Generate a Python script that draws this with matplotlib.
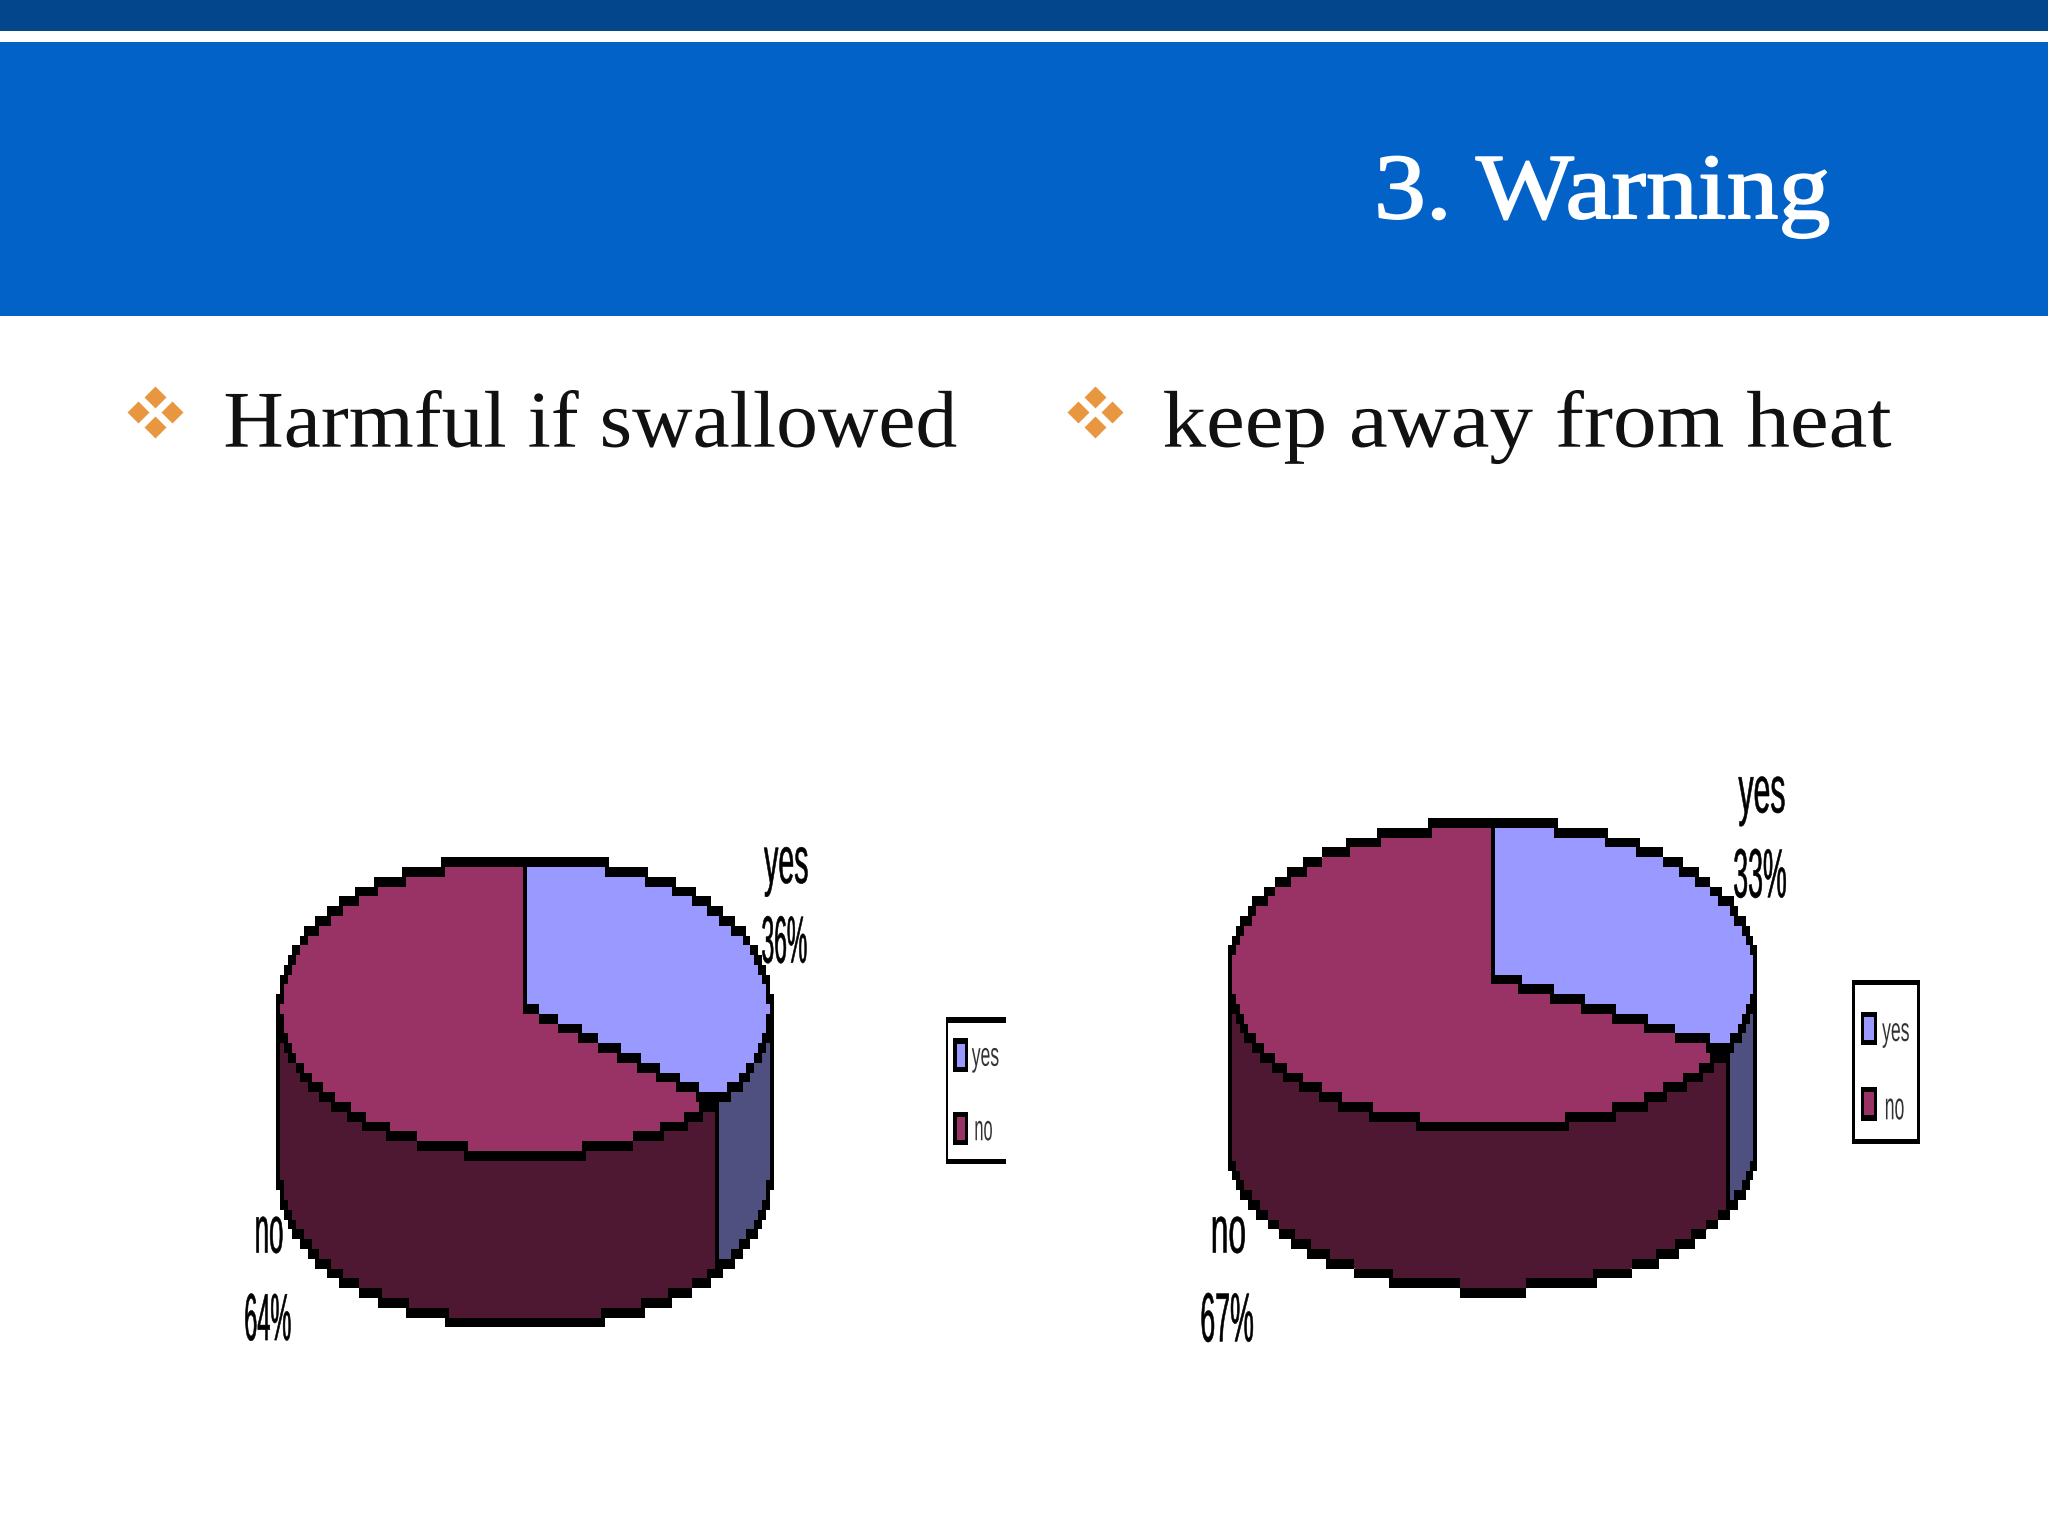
import numpy as np
import matplotlib
matplotlib.use("Agg")
import matplotlib.pyplot as plt
import matplotlib.patheffects as pe
from matplotlib.collections import PolyCollection
from matplotlib.transforms import Affine2D

# ---- data ----
categories = ["yes", "no"]
left_values = [36, 64]
right_values = [33, 67]
left_labels = ["36%", "64%"]
right_labels = ["33%", "67%"]
title_text = "3. Warning"
bullet_texts = ["Harmful if swallowed", "keep away from heat"]

TOP_COL = {"yes": "#9999FF", "no": "#993366"}
SIDE_COL = {"yes": "#4F4F80", "no": "#4E1832"}
CELL_W, CELL_H = 3.0, 7.5
EXPO = 2.08

fig = plt.figure(figsize=(20.48, 15.36), dpi=100, facecolor="white")
ax = fig.add_axes([0, 0, 1, 1])
ax.set_xlim(0, 1568)
ax.set_ylim(1176, 0)
ax.axis("off")
PX = 2048 / 1568


class Squeeze(pe.AbstractPathEffect):
    def __init__(self, sx, stroke=0.0):
        super().__init__()
        self.sx, self.stroke = sx, stroke

    def draw_path(self, renderer, gc, tpath, affine, rgbFace=None):
        gc0 = renderer.new_gc()
        gc0.copy_properties(gc)
        if self.stroke > 0:
            gc0.set_foreground(rgbFace)
            gc0.set_linewidth(self.stroke)
        renderer.draw_path(gc0, tpath, Affine2D().scale(self.sx, 1.0) + affine, rgbFace)
        gc0.restore()


def fit_text(s, x0, x1, base, size, color="black", family="Liberation Serif", stroke=0.0, z=10):
    t = ax.text(x0, base, s, fontsize=size, color=color, family=family,
                ha="left", va="baseline", zorder=z)
    w = t.get_window_extent(fig.canvas.get_renderer()).width
    t.set_path_effects([Squeeze((x1 - x0) * PX / w, stroke)])
    return t


def cells(points):
    q = np.unique(np.round(np.asarray(points) / [CELL_W, CELL_H]).astype(int), axis=0)
    out = []
    for i, j in q:
        x, y = i * CELL_W, j * CELL_H
        out.append([(x - CELL_W / 2, y - CELL_H / 2), (x + CELL_W / 2, y - CELL_H / 2),
                    (x + CELL_W / 2, y + CELL_H / 2), (x - CELL_W / 2, y + CELL_H / 2)])
    return out


def pie3d(values, cx, cy, rx, ry, depth):
    frac = values[0] / sum(values)
    split = 360 * frac

    def arc(a, b, dy=0.0, n=400):
        t = np.radians(np.linspace(a, b, n))
        s, c = np.sin(t), np.cos(t)
        r = (np.abs(s) ** EXPO + np.abs(c) ** EXPO) ** (-1 / EXPO)
        return np.column_stack([cx + rx * r * s, cy - ry * r * c + dy])

    # side walls
    for name, a, b in [("yes", 90, split), ("no", split, 270)]:
        p = np.vstack([arc(a, b), arc(b, a, depth)])
        ax.fill(p[:, 0], p[:, 1], color=SIDE_COL[name], lw=0, zorder=2)
    # top slices
    for name, a, b in [("yes", 0, split), ("no", split, 360)]:
        p = np.vstack([[(cx, cy)], arc(a, b)])
        ax.fill(p[:, 0], p[:, 1], color=TOP_COL[name], lw=0, zorder=3)
    # pixel-stepped outline
    pts = [arc(0, 360, n=1500), arc(90, 270, depth, n=800)]
    t = np.linspace(0, 1, 200)[:, None]
    s = arc(split, split, n=1)[0]
    pts.append(np.array([cx, cy]) * (1 - t) + s * t)
    pts.append(np.array([cx, cy]) + np.array([0, -ry]) * t)
    for tip_a in (90, split, 270):
        tip = arc(tip_a, tip_a, n=1)[0]
        pts.append(tip + np.array([0, depth]) * t)
    ax.add_collection(PolyCollection(cells(np.vstack(pts)), facecolors="black",
                                     edgecolors="none", zorder=4))


# ---- header ----
ax.fill_between([0, 1568], 0, 24, color="#03468C", lw=0)
ax.fill_between([0, 1568], 32, 242, color="#0362C8", lw=0)
fit_text(title_text, 1052, 1401, 167, 67, color="white", stroke=1.3)

# ---- bullets ----
for bx, txt, x0, x1 in [(119, bullet_texts[0], 171, 733), (838, bullet_texts[1], 890, 1448)]:
    ax.scatter([bx, bx, bx - 13, bx + 13], [304, 327, 315.5, 315.5], marker="D", s=125,
               color="#E8963F", linewidths=0, zorder=5)
    fit_text(txt, x0, x1, 342, 58, color="#111111")

# ---- pies ----
pie3d(left_values, 402, 771, 188, 113, 130)
pie3d(right_values, 1143, 747, 202, 116, 124)

SANS = "Liberation Sans"
LBL = 0.4
fit_text(categories[0], 585, 619, 676, 48, family=SANS, stroke=LBL)
fit_text(left_labels[0], 583, 618, 737, 48, family=SANS, stroke=LBL)
fit_text(categories[1], 195, 217, 959, 48, family=SANS, stroke=LBL)
fit_text(left_labels[1], 187, 223, 1026, 48, family=SANS, stroke=LBL)
fit_text(categories[0], 1331, 1367, 622, 48, family=SANS, stroke=LBL)
fit_text(right_labels[0], 1327, 1368, 687, 50, family=SANS, stroke=LBL)
fit_text(categories[1], 927, 954, 959, 48, family=SANS, stroke=LBL)
fit_text(right_labels[1], 919, 960, 1027, 50, family=SANS, stroke=LBL)

# ---- legends ----
def hbar(x0, x1, y0, y1):
    ax.fill_between([x0, x1], y0, y1, color="black", lw=0, zorder=5)

def swatch(x0, x1, y0, y1, c):
    ax.fill_between([x0, x1], y0, y1, color="black", lw=0, zorder=5)
    ax.fill_between([x0 + 2.5, x1 - 2.5], y0 + 4, y1 - 4, color=c, lw=0, zorder=6)

# left legend (clipped on the right)
hbar(724, 770, 779, 783)
hbar(724, 770, 887, 891)
hbar(724, 726, 779, 891)
swatch(730, 741, 795, 821, TOP_COL["yes"])
swatch(730, 741, 851, 877, TOP_COL["no"])
fit_text(categories[0], 744, 765, 816, 24, family=SANS, color="#333333")
fit_text(categories[1], 746, 760, 873, 26, family=SANS, color="#333333")
# right legend
hbar(1418, 1470, 750, 754)
hbar(1418, 1470, 872, 876)
hbar(1418, 1420, 750, 876)
hbar(1468, 1470, 750, 876)
swatch(1425, 1437, 775, 800, TOP_COL["yes"])
swatch(1425, 1437, 832, 858, TOP_COL["no"])
fit_text(categories[0], 1441, 1462, 797, 24, family=SANS, color="#333333")
fit_text(categories[1], 1443, 1458, 857, 28, family=SANS, color="#333333")

fig.savefig("out.png", dpi=100, facecolor="white")
